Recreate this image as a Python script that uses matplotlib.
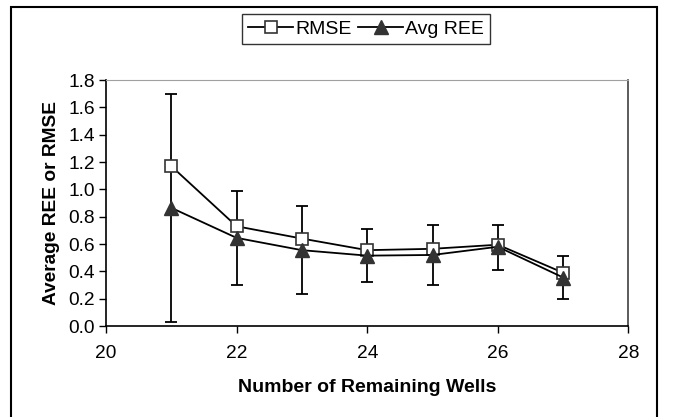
import matplotlib
matplotlib.use("Agg")
import matplotlib.pyplot as plt
from matplotlib.patches import Rectangle

plt.rcParams['font.family'] = ['Liberation Sans', 'DejaVu Sans']

wells = [21, 22, 23, 24, 25, 26, 27]
rmse = [1.17, 0.73, 0.64, 0.555, 0.565, 0.595, 0.39]
avg_ree = [0.865, 0.645, 0.555, 0.515, 0.52, 0.58, 0.355]
err_upper = [1.70, 0.99, 0.88, 0.71, 0.74, 0.74, 0.51]
err_lower = [0.03, 0.30, 0.235, 0.32, 0.30, 0.41, 0.20]

yerr = [[a - lo for a, lo in zip(avg_ree, err_lower)],
        [hi - a for a, hi in zip(avg_ree, err_upper)]]

fig = plt.figure(figsize=(6.75, 4.17), dpi=100)
ax = fig.add_axes([0.157, 0.2182, 0.774, 0.5898])

ax.errorbar(wells, avg_ree, yerr=yerr, fmt='none', ecolor='black',
            elinewidth=1.3, capsize=4.3, capthick=1.3, zorder=2)
ax.plot(wells, rmse, color='black', lw=1.3, marker='s', ms=8,
        mfc='white', mec='#333333', mew=1.2, label='RMSE', zorder=3)
ax.plot(wells, avg_ree, color='black', lw=1.3, marker='^', ms=9.5,
        mfc='#333333', mec='#333333', label='Avg REE', zorder=4)

ax.set_xlim(20, 28)
ax.set_ylim(0, 1.8)
ax.set_xticks([20, 22, 24, 26, 28])
ax.set_yticks([0.0, 0.2, 0.4, 0.6, 0.8, 1.0, 1.2, 1.4, 1.6, 1.8])
ax.set_yticklabels([f"{v:.1f}" for v in ax.get_yticks()])
ax.tick_params(axis='both', direction='out', length=5, width=1, labelsize=13.8, colors='black')
ax.tick_params(axis='x', pad=9)
ax.tick_params(axis='y', pad=3)

for side in ['left', 'bottom']:
    ax.spines[side].set_color('black')
    ax.spines[side].set_linewidth(1.2)
ax.spines['top'].set_color('#a0a0a0')
ax.spines['right'].set_color('#404040')
ax.spines['right'].set_linewidth(1.2)

ax.set_xlabel('Number of Remaining Wells', fontsize=14, fontweight='bold', labelpad=12)
ax.set_ylabel('Average REE or RMSE', fontsize=13.8, fontweight='bold', labelpad=6)

leg = fig.legend(loc='center', bbox_to_anchor=(366 / 675, 1 - 29 / 417), ncol=2, frameon=True,
                 fancybox=False, edgecolor='black', fontsize=14, handlelength=2.3,
                 handletextpad=0.1, columnspacing=0.35, borderpad=0.3, borderaxespad=0)
leg.get_frame().set_linewidth(1.0)

fig.patches.append(Rectangle((11 / 675, -0.02), (657 - 11) / 675, 1.02 - 7 / 417,
                             transform=fig.transFigure,
                             fill=False, edgecolor='black', lw=1.5))

fig.savefig('out.png', dpi=100)
